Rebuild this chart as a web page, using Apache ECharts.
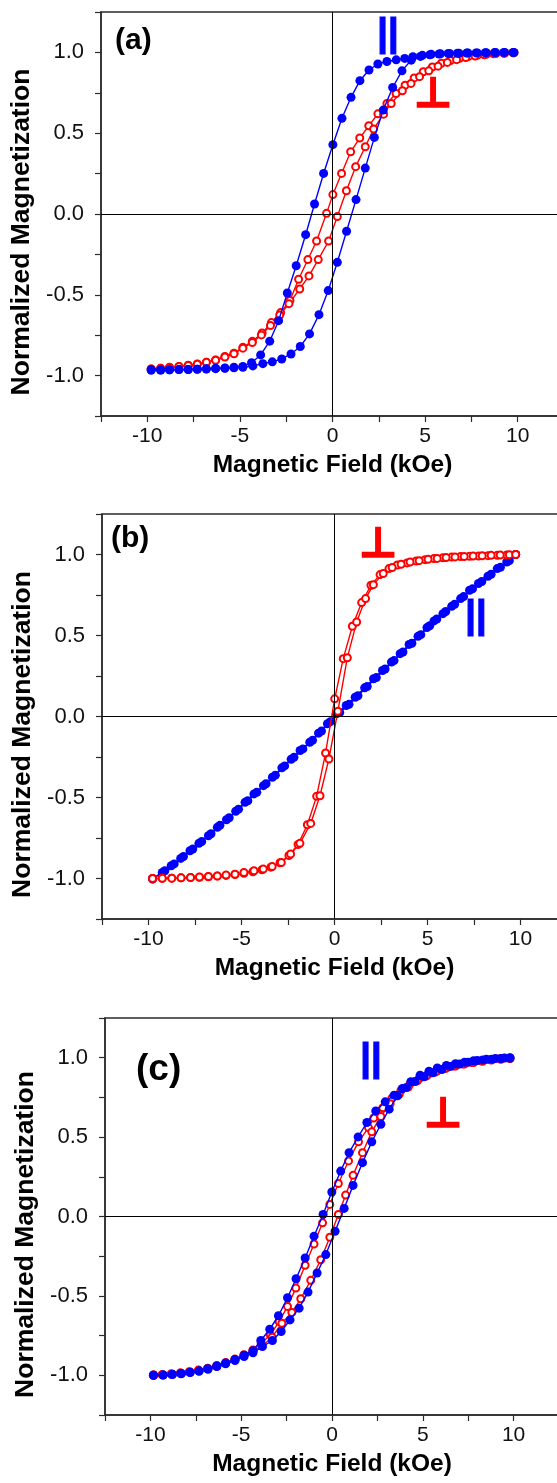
<!DOCTYPE html>
<html><head><meta charset="utf-8">
<script src="https://cdn.jsdelivr.net/npm/echarts@6/dist/echarts.min.js"></script>
<style>html,body{margin:0;padding:0;background:#fff}#c{width:557px;height:1483px}</style>
</head><body><div id="c"></div>
<script>
// ---------- Data (Magnetic Field kOe, Normalized Magnetization) ----------
// Panel (a)
const aParDown = [[9.80,1.000],[9.29,1.000],[8.81,0.999],[8.30,0.998],[7.82,0.997],[7.31,0.996],[6.83,0.995],[6.32,0.993],[5.83,0.991],[5.33,0.988],[4.85,0.982],[4.34,0.973],[3.90,0.963],[3.44,0.954],[2.94,0.944],[2.45,0.928],[1.97,0.891],[1.48,0.825],[1.00,0.722],[0.51,0.592],[0.02,0.429],[-0.48,0.251],[-0.97,0.062],[-1.45,-0.128],[-1.96,-0.320],[-2.44,-0.489],[-2.91,-0.660],[-3.39,-0.787],[-3.88,-0.872],[-4.37,-0.920],[-4.84,-0.944],[-5.32,-0.948],[-5.81,-0.953],[-6.31,-0.955],[-6.81,-0.958],[-7.30,-0.960],[-7.79,-0.962],[-8.29,-0.963],[-8.80,-0.964],[-9.28,-0.965],[-9.79,-0.965]];
const aParUp = [[-9.79,-0.965],[-9.28,-0.965],[-8.80,-0.964],[-8.29,-0.963],[-7.79,-0.962],[-7.30,-0.961],[-6.81,-0.959],[-6.31,-0.957],[-5.81,-0.955],[-5.32,-0.952],[-4.84,-0.948],[-4.30,-0.940],[-3.76,-0.926],[-3.25,-0.915],[-2.74,-0.897],[-2.24,-0.866],[-1.74,-0.820],[-1.24,-0.742],[-0.73,-0.623],[-0.23,-0.474],[0.26,-0.299],[0.76,-0.107],[1.27,0.089],[1.77,0.284],[2.26,0.474],[2.74,0.643],[3.25,0.783],[3.75,0.886],[4.25,0.952],[4.75,0.975],[5.25,0.985],[5.75,0.990],[6.25,0.993],[6.75,0.995],[7.25,0.996],[7.75,0.997],[8.25,0.998],[8.75,0.999],[9.25,1.000],[9.75,1.000]];
const aPerpDown = [[9.80,0.998],[9.31,0.996],[8.82,0.993],[8.33,0.989],[7.84,0.983],[7.35,0.975],[6.86,0.964],[6.37,0.950],[5.88,0.933],[5.39,0.910],[4.90,0.880],[4.41,0.842],[3.92,0.797],[3.43,0.746],[2.94,0.684],[2.45,0.620],[1.96,0.546],[1.47,0.470],[0.98,0.385],[0.49,0.251],[0.02,0.120],[-0.32,0.004],[-0.86,-0.167],[-1.33,-0.282],[-1.83,-0.404],[-2.30,-0.535],[-2.80,-0.610],[-3.30,-0.672],[-3.80,-0.736],[-4.33,-0.788],[-4.84,-0.825],[-5.32,-0.862],[-5.81,-0.882],[-6.31,-0.903],[-6.81,-0.917],[-7.30,-0.928],[-7.79,-0.936],[-8.29,-0.943],[-8.80,-0.949],[-9.28,-0.955],[-9.79,-0.959]];
const aPerpUp = [[-9.79,-0.959],[-9.28,-0.955],[-8.80,-0.950],[-8.29,-0.944],[-7.79,-0.937],[-7.30,-0.929],[-6.81,-0.918],[-6.31,-0.905],[-5.81,-0.885],[-5.32,-0.865],[-4.84,-0.830],[-4.33,-0.795],[-3.84,-0.748],[-3.35,-0.690],[-2.85,-0.625],[-2.35,-0.555],[-1.77,-0.464],[-1.27,-0.383],[-0.77,-0.282],[-0.21,-0.167],[0.26,-0.016],[0.75,0.144],[1.25,0.293],[1.77,0.416],[2.22,0.526],[2.76,0.618],[3.17,0.684],[3.77,0.763],[4.24,0.808],[4.70,0.850],[5.20,0.886],[5.70,0.915],[6.20,0.938],[6.70,0.955],[7.20,0.968],[7.70,0.978],[8.20,0.985],[8.70,0.991],[9.25,0.995],[9.75,0.998]];
// Panel (b)
const bParUp = [[-9.78,-1.004],[-9.26,-0.963],[-8.78,-0.921],[-8.27,-0.876],[-7.77,-0.829],[-7.29,-0.783],[-6.78,-0.736],[-6.30,-0.684],[-5.81,-0.637],[-5.31,-0.585],[-4.81,-0.530],[-4.33,-0.478],[-3.82,-0.427],[-3.34,-0.375],[-2.83,-0.317],[-2.33,-0.264],[-1.85,-0.210],[-1.33,-0.159],[-0.86,-0.103],[-0.38,-0.045],[0.10,0.017],[0.63,0.068],[1.11,0.119],[1.62,0.177],[2.10,0.233],[2.58,0.284],[3.06,0.336],[3.53,0.388],[4.01,0.445],[4.49,0.495],[4.97,0.549],[5.35,0.590],[5.83,0.635],[6.30,0.680],[6.78,0.728],[7.26,0.779],[7.74,0.821],[8.25,0.866],[8.75,0.913],[9.26,0.954],[9.74,1.000]];
const bParDown = [[9.74,1.000],[9.40,0.962],[8.92,0.921],[8.42,0.878],[7.92,0.833],[7.42,0.788],[6.94,0.740],[6.46,0.693],[5.98,0.648],[5.50,0.602],[5.12,0.560],[4.64,0.505],[4.16,0.452],[3.68,0.398],[3.20,0.345],[2.72,0.293],[2.25,0.240],[1.76,0.185],[1.26,0.128],[0.78,0.075],[0.28,0.025],[-0.22,-0.032],[-0.70,-0.090],[-1.18,-0.147],[-1.70,-0.200],[-2.18,-0.252],[-2.68,-0.305],[-3.18,-0.362],[-3.68,-0.415],[-4.18,-0.468],[-4.66,-0.520],[-5.16,-0.572],[-5.66,-0.625],[-6.16,-0.672],[-6.64,-0.724],[-7.14,-0.772],[-7.62,-0.818],[-8.12,-0.864],[-8.62,-0.910],[-9.12,-0.952],[-9.78,-1.000]];
const bPerpDown = [[9.74,1.000],[9.26,0.997],[8.75,0.995],[8.25,0.993],[7.74,0.991],[7.26,0.989],[6.78,0.987],[6.30,0.984],[5.83,0.980],[5.35,0.975],[4.87,0.968],[4.39,0.960],[3.90,0.948],[3.38,0.935],[2.93,0.913],[2.45,0.876],[1.96,0.810],[1.46,0.703],[0.96,0.557],[0.47,0.357],[0.01,0.109],[-0.48,-0.225],[-0.96,-0.493],[-1.46,-0.668],[-1.96,-0.790],[-2.45,-0.858],[-2.93,-0.903],[-3.42,-0.930],[-3.90,-0.946],[-4.39,-0.958],[-4.87,-0.968],[-5.35,-0.975],[-5.83,-0.981],[-6.30,-0.985],[-6.78,-0.989],[-7.26,-0.992],[-7.74,-0.994],[-8.25,-0.996],[-8.75,-0.998],[-9.26,-0.999],[-9.78,-1.000]];
const bPerpUp = [[-9.78,-1.000],[-9.26,-0.999],[-8.75,-0.998],[-8.25,-0.996],[-7.74,-0.994],[-7.26,-0.991],[-6.78,-0.988],[-6.30,-0.984],[-5.83,-0.979],[-5.35,-0.973],[-4.87,-0.963],[-4.33,-0.952],[-3.83,-0.942],[-3.35,-0.926],[-2.86,-0.901],[-2.36,-0.849],[-1.86,-0.783],[-1.28,-0.660],[-0.78,-0.489],[-0.30,-0.262],[0.18,0.033],[0.69,0.363],[1.19,0.583],[1.67,0.728],[2.09,0.814],[2.62,0.882],[3.10,0.920],[3.58,0.940],[4.06,0.953],[4.55,0.962],[5.03,0.970],[5.52,0.976],[6.00,0.981],[6.48,0.985],[6.97,0.988],[7.45,0.990],[7.94,0.992],[8.42,0.995],[8.91,0.997],[9.40,0.999],[9.74,1.000]];
// Panel (c)
const cParDown = [[9.80,0.998],[9.30,0.995],[8.80,0.991],[8.30,0.986],[7.80,0.981],[7.30,0.972],[6.80,0.962],[6.30,0.951],[5.80,0.935],[5.34,0.915],[4.85,0.890],[4.34,0.849],[3.88,0.806],[3.42,0.764],[2.93,0.722],[2.41,0.665],[1.92,0.592],[1.44,0.501],[0.94,0.402],[0.48,0.286],[-0.01,0.154],[-0.49,0.013],[-0.99,-0.124],[-1.48,-0.261],[-1.98,-0.392],[-2.45,-0.512],[-2.95,-0.625],[-3.43,-0.710],[-3.92,-0.781],[-4.35,-0.845],[-4.84,-0.873],[-5.34,-0.900],[-5.86,-0.922],[-6.34,-0.940],[-6.83,-0.958],[-7.32,-0.972],[-7.81,-0.981],[-8.30,-0.988],[-8.79,-0.994],[-9.30,-0.998],[-9.83,-1.000]];
const cParUp = [[-9.83,-1.000],[-9.30,-0.998],[-8.79,-0.995],[-8.30,-0.990],[-7.81,-0.983],[-7.32,-0.975],[-6.83,-0.962],[-6.34,-0.945],[-5.86,-0.928],[-5.34,-0.907],[-4.84,-0.882],[-4.35,-0.858],[-3.83,-0.819],[-3.28,-0.781],[-2.80,-0.724],[-2.31,-0.651],[-1.81,-0.577],[-1.32,-0.476],[-0.82,-0.356],[-0.34,-0.240],[0.17,-0.093],[0.67,0.051],[1.16,0.196],[1.68,0.339],[2.19,0.470],[2.69,0.581],[3.15,0.676],[3.61,0.760],[4.10,0.812],[4.58,0.850],[5.07,0.880],[5.56,0.905],[6.05,0.925],[6.53,0.945],[7.02,0.960],[7.50,0.972],[8.00,0.982],[8.50,0.990],[9.00,0.995],[9.50,0.998],[9.80,1.000]];
const cPerpDown = [[9.80,0.995],[9.30,0.990],[8.80,0.985],[8.30,0.978],[7.80,0.970],[7.30,0.960],[6.80,0.948],[6.30,0.934],[5.80,0.918],[5.30,0.895],[4.80,0.868],[4.30,0.835],[3.80,0.795],[3.30,0.745],[2.80,0.685],[2.30,0.620],[2.01,0.560],[1.46,0.470],[0.91,0.350],[0.35,0.208],[-0.12,0.076],[-0.52,-0.040],[-0.99,-0.173],[-1.48,-0.307],[-1.99,-0.451],[-2.45,-0.566],[-2.91,-0.662],[-3.40,-0.745],[-3.90,-0.800],[-4.35,-0.840],[-4.85,-0.870],[-5.35,-0.898],[-5.85,-0.920],[-6.35,-0.940],[-6.85,-0.955],[-7.35,-0.967],[-7.85,-0.978],[-8.35,-0.986],[-8.85,-0.992],[-9.35,-0.996],[-9.83,-0.998]];
const cPerpUp = [[-9.83,-0.998],[-9.35,-0.996],[-8.85,-0.992],[-8.35,-0.986],[-7.85,-0.979],[-7.35,-0.969],[-6.85,-0.957],[-6.35,-0.943],[-5.85,-0.924],[-5.35,-0.903],[-4.85,-0.876],[-4.35,-0.848],[-3.85,-0.815],[-3.30,-0.760],[-2.76,-0.672],[-2.21,-0.604],[-1.72,-0.518],[-1.17,-0.402],[-0.62,-0.272],[-0.12,-0.131],[0.35,0.013],[0.75,0.135],[1.16,0.259],[1.68,0.402],[2.19,0.533],[2.69,0.630],[3.20,0.710],[3.70,0.770],[4.20,0.815],[4.70,0.855],[5.20,0.885],[5.70,0.910],[6.20,0.932],[6.70,0.948],[7.20,0.960],[7.70,0.970],[8.20,0.980],[8.70,0.987],[9.25,0.993],[9.80,0.995]];

const xTicks = [-10, -5, 0, 5, 10];
const yTicks = [-1.0, -0.5, 0.0, 0.5, 1.0];
const xTitle = 'Magnetic Field (kOe)';
const yTitle = 'Normalized Magnetization';
const panelLabels = ['(a)', '(b)', '(c)'];
const parSym = '||';
const perpSym = '⊥';

// ---------- Layout ----------
const BLUE = '#0000ff', RED = '#ff0000', AX = '#2b2b2b';
const FONT = '"Liberation Sans", Arial, sans-serif';
const grids = [
  {left: 101, top: 12, width: 463, height: 404},
  {left: 102, top: 514, width: 465, height: 405},
  {left: 105, top: 1018, width: 454, height: 397}
];

function xAxisFor(i) {
  return {
    type: 'value', gridIndex: i, min: -12.5, max: 12.5, interval: 2.5,
    name: xTitle, nameLocation: 'middle', nameGap: 37,
    nameTextStyle: {fontFamily: FONT, fontWeight: 'bold', fontSize: 24.5, color: '#000'},
    axisLine: {show: true, onZero: false, lineStyle: {color: AX, width: 1.5}},
    axisTick: {show: true, inside: false, length: 6, lineStyle: {color: AX, width: 1.2}},
    axisLabel: {
      fontFamily: FONT, fontSize: 21, color: '#111', margin: 10,
      formatter: v => (xTicks.indexOf(v) >= 0 ? String(v) : '')
    },
    splitLine: {show: false}
  };
}
function yAxisFor(i) {
  return {
    type: 'value', gridIndex: i, min: -1.25, max: 1.25, interval: 0.25,
    name: yTitle, nameLocation: 'middle', nameGap: 62, nameRotate: 90,
    nameTextStyle: {fontFamily: FONT, fontWeight: 'bold', fontSize: 26.5, color: '#000', padding: [0, 36, 0, 0]},
    axisLine: {show: true, onZero: false, lineStyle: {color: AX, width: 1.5}},
    axisTick: {show: true, inside: false, length: 6, lineStyle: {color: AX, width: 1.2}},
    axisLabel: {
      fontFamily: FONT, fontSize: 22, color: '#111', margin: 17,
      formatter: v => {
        const hit = yTicks.find(t => Math.abs(t - v) < 1e-9);
        return hit === undefined ? '' : hit.toFixed(1);
      }
    },
    splitLine: {show: false}
  };
}
function parSeries(data, i) {
  return {
    type: 'line', xAxisIndex: i, yAxisIndex: i, data: data,
    symbol: 'circle', symbolSize: 9, showSymbol: true,
    itemStyle: {color: BLUE},
    lineStyle: {color: BLUE, width: 1.4},
    animation: false, silent: true, z: 3
  };
}
function perpSeries(data, i, z) {
  return {
    type: 'line', xAxisIndex: i, yAxisIndex: i, data: data,
    symbol: 'emptyCircle', symbolSize: 7, showSymbol: true,
    itemStyle: {color: RED, borderWidth: 1.5},
    lineStyle: {color: RED, width: 1.4},
    animation: false, silent: true, z: z
  };
}
function zeroLines(i) {
  return {
    type: 'line', xAxisIndex: i, yAxisIndex: i, data: [], silent: true, animation: false, z: 1,
    markLine: {
      silent: true, symbol: ['none', 'none'], label: {show: false}, animation: false,
      lineStyle: {color: '#000', width: 1, type: 'solid'},
      data: [{yAxis: 0}, {xAxis: 0}]
    }
  };
}

const panels = [
  {par: [aParDown, aParUp], perp: [aPerpDown, aPerpUp], perpZ: 2},
  {par: [bParDown, bParUp], perp: [bPerpDown, bPerpUp], perpZ: 4},
  {par: [cParDown, cParUp], perp: [cPerpDown, cPerpUp], perpZ: 2}
];
const series = [];
panels.forEach((p, i) => {
  series.push(zeroLines(i));
  p.perp.forEach(d => series.push(perpSeries(d, i, p.perpZ)));
  p.par.forEach(d => series.push(parSeries(d, i)));
});

// annotation positions (pixels)
const labelPos = [
  {x: 115, y: 43, size: 30}, {x: 111, y: 541, size: 30}, {x: 136, y: 1073, size: 37}
];
const parPos = [{x: 388, y: 35}, {x: 476, y: 617}, {x: 371, y: 1060}];
const perpPos = [{x: 433, y: 96}, {x: 378, y: 546}, {x: 443, y: 1116}];

const graphic = [];
for (let i = 0; i < 3; i++) {
  graphic.push({type: 'text', left: labelPos[i].x, top: labelPos[i].y - labelPos[i].size * 0.58, silent: true,
    style: {text: panelLabels[i], font: 'bold ' + labelPos[i].size + 'px ' + FONT, fill: '#000'}});
  graphic.push({type: 'text', x: parPos[i].x, y: parPos[i].y, silent: true,
    style: {text: parSym, font: 'bold 38px ' + FONT, fill: BLUE, align: 'center', verticalAlign: 'middle',
      stroke: BLUE, lineWidth: 1.2}});
  graphic.push({type: 'text', x: perpPos[i].x, y: perpPos[i].y, silent: true,
    style: {text: perpSym, font: 'bold 42px "DejaVu Sans"', fill: RED, align: 'center', verticalAlign: 'middle',
      stroke: RED, lineWidth: 1.5}});
}

const chart = echarts.init(document.getElementById('c'), null, {renderer: 'canvas'});
chart.setOption({
  animation: false,
  backgroundColor: '#fff',
  grid: grids.map(g => Object.assign({show: true, borderColor: AX, borderWidth: 1.5, backgroundColor: 'transparent',
    containLabel: false, outerBoundsMode: 'none'}, g)),
  xAxis: [0, 1, 2].map(xAxisFor),
  yAxis: [0, 1, 2].map(yAxisFor),
  series: series,
  graphic: graphic
});
</script></body></html>
